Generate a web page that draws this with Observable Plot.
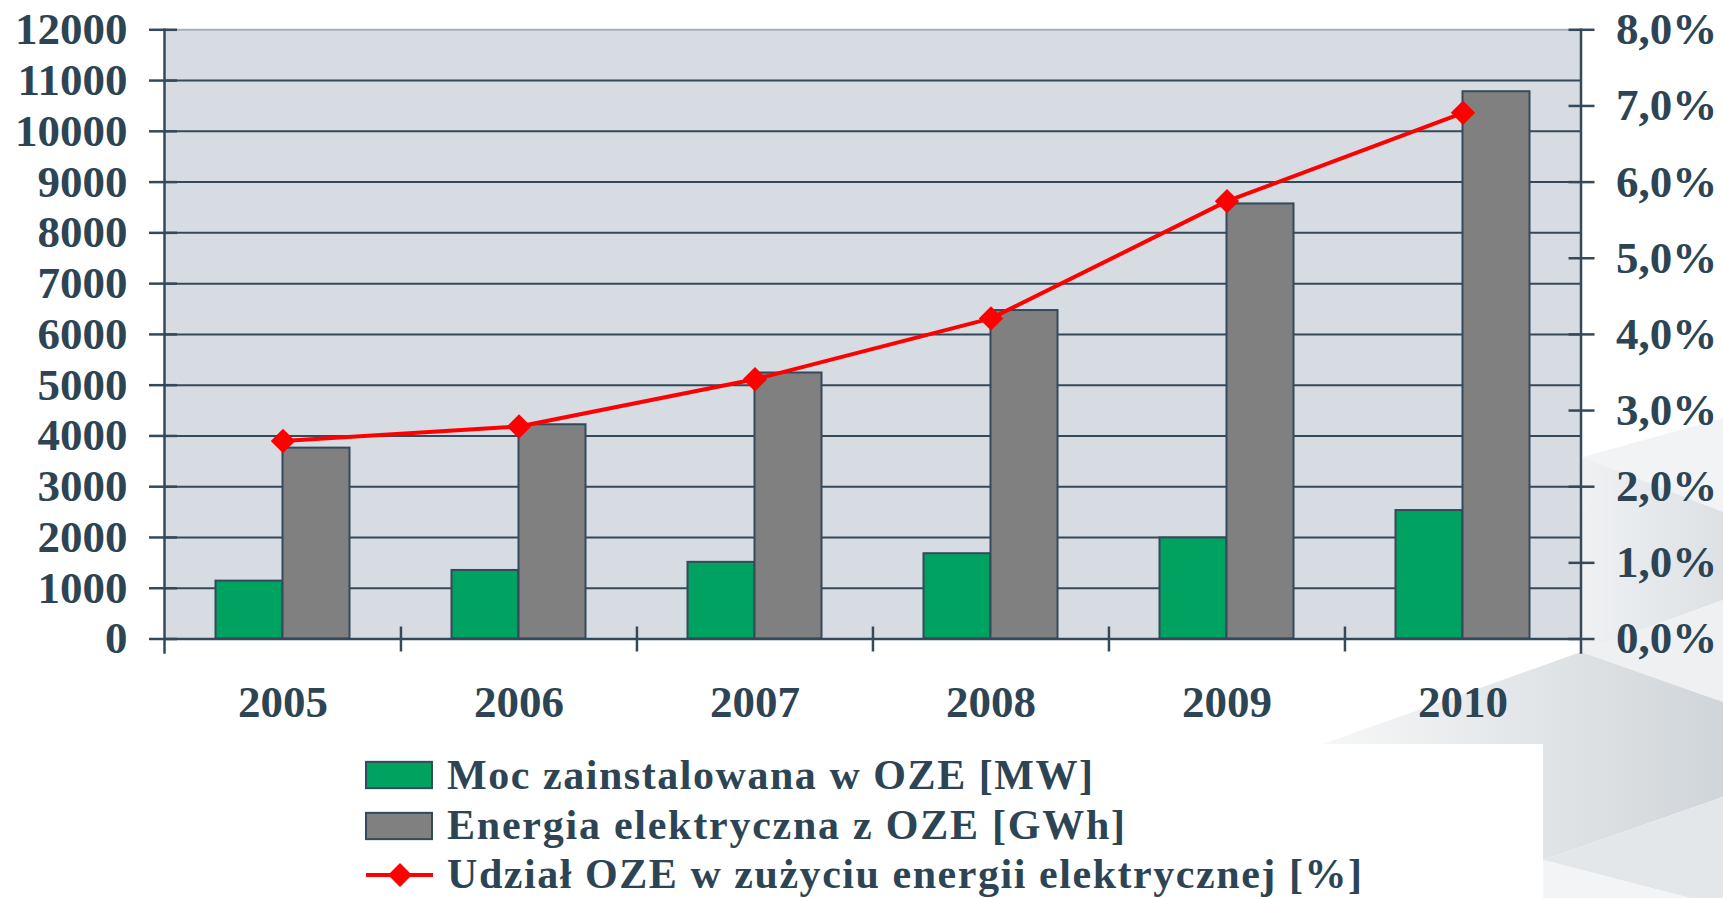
<!DOCTYPE html>
<html>
<head>
<meta charset="utf-8">
<script src="https://cdn.jsdelivr.net/npm/d3@7"></script>
<script src="https://cdn.jsdelivr.net/npm/@observablehq/plot@0.6"></script>
<style>
html, body { margin: 0; padding: 0; background: #ffffff; }
#wrap { position: relative; width: 1723px; height: 898px; overflow: hidden; }
#deco { position: absolute; left: 0; top: 0; }
#chart, #legend { position: relative; }
#chart svg, #legend svg { display: block; }
</style>
</head>
<body>
<div id="wrap">
  <svg id="deco" width="1723" height="898"></svg>
  <div id="chart"></div>
  <div id="legend"></div>
</div>
<script>
// ---- data ----
const years = ["2005", "2006", "2007", "2008", "2009", "2010"];
const mocMW = [1140, 1350, 1510, 1680, 1990, 2530];          // Moc zainstalowana w OZE [MW]
const energiaGWh = [3760, 4220, 5240, 6470, 8570, 10780];   // Energia elektryczna z OZE [GWh]
const udzialPct = [2.60, 2.79, 3.41, 4.21, 5.75, 6.91];     // Udział OZE w zużyciu energii elektrycznej [%]
const leftTicks = [0, 1000, 2000, 3000, 4000, 5000, 6000, 7000, 8000, 9000, 10000, 11000, 12000];
const pctTicks = [0, 1, 2, 3, 4, 5, 6, 7, 8];
const pctLabels = ["0,0%", "1,0%", "2,0%", "3,0%", "4,0%", "5,0%", "6,0%", "7,0%", "8,0%"];
const legendLabels = [
  "Moc zainstalowana w OZE [MW]",
  "Energia elektryczna z OZE [GWh]",
  "Udział OZE w zużyciu energii elektrycznej [%]"
];

// ---- style ----
const textColor = "#2D4454";
const edge = "#34495A";
const plotBg = "#D7DCE3";
const green = "#00A262";
const gray = "#808080";
const red = "#FF0000";
const font = "'Liberation Serif', 'Times New Roman', serif";

// ---- layout ----
const W = 1723, H = 740;
const mL = 164, mR = 142.5, mT = 29.3, mB = 101.5;
const step = (W - mL - mR) / years.length;
const barW = 67;
const pin = 1 - barW / step;
const k = leftTicks[leftTicks.length - 1] / pctTicks[pctTicks.length - 1];
const pctLabelOf = new Map(pctTicks.map((p, i) => [p * k, pctLabels[i]]));

const rows = years.map((y, i) => ({year: y, moc: mocMW[i], energia: energiaGWh[i], udzial: udzialPct[i]}));

// ---- background decoration (slide) ----
(function () {
  const s = d3.select("#deco");
  const defs = s.append("defs");
  const g1 = defs.append("linearGradient").attr("id", "g1").attr("x1", "0").attr("x2", "1").attr("y1", "0").attr("y2", "0");
  g1.append("stop").attr("offset", "0").attr("stop-color", "#F6F7F8");
  g1.append("stop").attr("offset", "1").attr("stop-color", "#D0D5D9");
  const g2 = defs.append("linearGradient").attr("id", "g2").attr("x1", "0").attr("x2", "1").attr("y1", "0").attr("y2", "0");
  g2.append("stop").attr("offset", "0").attr("stop-color", "#EFF1F3");
  g2.append("stop").attr("offset", "1").attr("stop-color", "#DDE1E4");
  const polys = [
    {pts: [[1583, 457], [1723, 418], [1723, 512]], fill: "#F1F3F4"},
    {pts: [[1583, 457], [1723, 512], [1723, 600], [1581, 652]], fill: "url(#g2)"},
    {pts: [[1581, 652], [1723, 600], [1723, 702]], fill: "#EEF0F2"},
    {pts: [[1323, 744], [1581, 652], [1723, 702], [1723, 797], [1543, 860], [1543, 744]], fill: "url(#g1)"},
    {pts: [[1543, 860], [1723, 797], [1723, 898], [1690, 898]], fill: "#E4E7EA"},
    {pts: [[1543, 860], [1690, 898], [1543, 898]], fill: "#F3F4F5"}
  ];
  s.selectAll("polygon").data(polys).join("polygon")
    .attr("points", d => d.pts.map(p => p.join(",")).join(" "))
    .attr("fill", d => d.fill);
})();

// ---- chart ----
const chart = Plot.plot({
  width: W,
  height: H,
  marginLeft: mL,
  marginRight: mR,
  marginTop: mT,
  marginBottom: mB,
  style: {
    fontFamily: font,
    fontWeight: "bold",
    fontSize: "45px",
    color: textColor,
    background: "transparent",
    overflow: "visible"
  },
  x: {type: "band", domain: years, paddingInner: pin, paddingOuter: pin / 2, axis: null, label: null},
  y: {domain: [leftTicks[0], leftTicks[leftTicks.length - 1]], axis: null, label: null},
  marks: [
    Plot.frame({fill: plotBg, stroke: null}),
    Plot.frame({anchor: "top", stroke: "#A9AFB5", strokeWidth: 2}),
    Plot.gridY(leftTicks.slice(0, -1), {stroke: edge, strokeOpacity: 1, strokeWidth: 2}),
    Plot.barY(rows, {x: "year", y: "moc", dx: -barW / 2, fill: green, stroke: edge, strokeWidth: 2}),
    Plot.barY(rows, {x: "year", y: "energia", dx: barW / 2, fill: gray, stroke: edge, strokeWidth: 2}),
    Plot.gridY([0], {stroke: edge, strokeOpacity: 1, strokeWidth: 2.5}),
    Plot.line(rows, {x: "year", y: d => d.udzial * k, stroke: red, strokeWidth: 4}),
    Plot.dot(rows, {x: "year", y: d => d.udzial * k, symbol: "diamond2", r: 11, fill: red, stroke: null}),
    Plot.frame({anchor: "left", stroke: edge, strokeWidth: 2.5, insetBottom: -13.5}),
    Plot.frame({anchor: "right", stroke: edge, strokeWidth: 2.5, insetBottom: -13.5}),
    Plot.axisY({
      anchor: "left", ticks: leftTicks, tickFormat: d => String(d), label: null,
      tickSize: 28, inset: 13, tickPadding: 22, stroke: edge, strokeWidth: 2.5, fill: textColor
    }),
    Plot.axisY({
      anchor: "right", ticks: pctTicks.map(p => p * k), tickFormat: d => pctLabelOf.get(d), label: null,
      tickSize: 26, inset: 13, tickPadding: 22, stroke: edge, strokeWidth: 2.5, fill: textColor
    }),
    Plot.axisX({
      ticks: years.slice(1), tickFormat: () => "", tickSize: 25, inset: 12, label: null,
      dx: -step / 2, stroke: edge, strokeWidth: 2.5
    }),
    Plot.axisX({ticks: years, tickSize: 0, tickPadding: 46, fill: textColor, label: null})
  ]
});
document.getElementById("chart").appendChild(chart);

// ---- legend ----
(function () {
  const LH = 898 - H;
  const svg = d3.select("#legend").append("svg")
    .attr("width", W).attr("height", LH)
    .style("overflow", "visible");
  const sx = 366, sw = 66, sh = 26.3, tx = 447;
  const items = [
    {label: legendLabels[0], kind: "rect", fill: green, cy: 35, base: 49, len: 646},
    {label: legendLabels[1], kind: "rect", fill: gray, cy: 86, base: 99, len: 678},
    {label: legendLabels[2], kind: "line", fill: red, cy: 135, base: 147.5, len: 915}
  ];
  items.forEach(it => {
    if (it.kind === "rect") {
      svg.append("rect")
        .attr("x", sx).attr("y", it.cy - sh / 2).attr("width", sw).attr("height", sh)
        .attr("fill", it.fill).attr("stroke", edge).attr("stroke-width", 2);
    } else {
      svg.append("line")
        .attr("x1", sx).attr("x2", sx + sw + 1).attr("y1", it.cy).attr("y2", it.cy)
        .attr("stroke", it.fill).attr("stroke-width", 4);
      const r = 12;
      const cx = sx + sw / 2 + 1;
      svg.append("path")
        .attr("d", `M${cx},${it.cy - r}L${cx + r},${it.cy}L${cx},${it.cy + r}L${cx - r},${it.cy}Z`)
        .attr("fill", it.fill);
    }
    svg.append("text")
      .attr("x", tx).attr("y", it.base)
      .attr("font-family", font).attr("font-weight", "bold").attr("font-size", 42)
      .attr("fill", textColor)
      .attr("textLength", it.len).attr("lengthAdjust", "spacing")
      .text(it.label);
  });
})();
</script>
</body>
</html>
